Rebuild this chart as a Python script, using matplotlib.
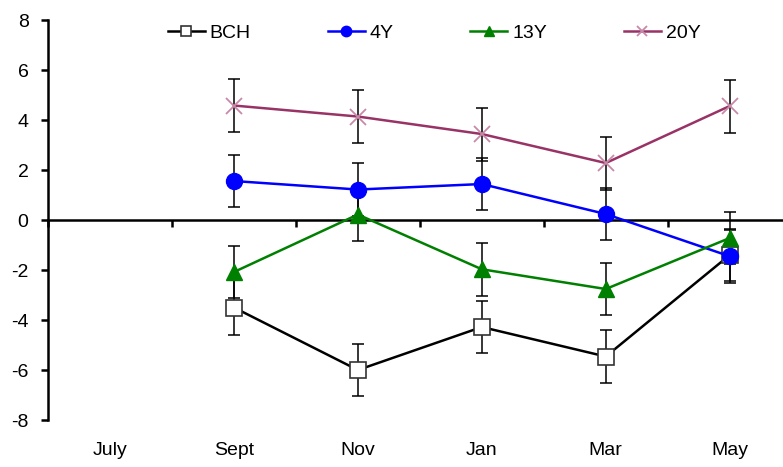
import numpy as np
import matplotlib
matplotlib.use("Agg")
import matplotlib.pyplot as plt

plt.rcParams['font.family'] = ['Liberation Sans', 'DejaVu Sans']
plt.rcParams['axes.unicode_minus'] = False

months = ['July', 'Sept', 'Nov', 'Jan', 'Mar', 'May']
months_data = ['Sept', 'Nov', 'Jan', 'Mar', 'May']

bch = [-3.5, -6.0, -4.28, -5.46, -1.4]
bch_err = [1.1, 1.05, 1.05, 1.05, 1.05]
y4 = [1.56, 1.22, 1.44, 0.24, -1.45]
y4_err = [1.05, 1.05, 1.05, 1.05, 1.05]
y13 = [-2.08, 0.22, -1.97, -2.76, -0.72]
y13_err = [1.05, 1.05, 1.05, 1.05, 1.05]
y20 = [4.58, 4.14, 3.44, 2.28, 4.56]
y20_err = [1.06, 1.06, 1.06, 1.06, 1.06]


def plot_chart():
    fig = plt.figure(figsize=(7.83, 4.67), dpi=100)
    ax = fig.add_axes([0.0613, 0.1006, 0.9387, 0.8565])

    x = np.array([months.index(m) for m in months_data])
    err_kw = dict(ecolor='black', elinewidth=1.1, capsize=4, capthick=1.1)

    series = [
        ('BCH', bch, bch_err, dict(color='black', marker='s', markersize=11,
                                   markerfacecolor='white', markeredgecolor='#333333',
                                   markeredgewidth=1.2)),
        ('4Y', y4, y4_err, dict(color='#0000ff', marker='o', markersize=11.5)),
        ('13Y', y13, y13_err, dict(color='#008000', marker='^', markersize=11.5)),
        ('20Y', y20, y20_err, dict(color='#993366', marker='x', markersize=11,
                                   markeredgecolor='#c888a8', markeredgewidth=1.3)),
    ]
    handles = []
    for name, vals, errs, style in series:
        ax.errorbar(x, vals, yerr=errs, fmt='none', zorder=2, **err_kw)
        h, = ax.plot(x, vals, linewidth=1.8, label=name, zorder=3, **style)
        handles.append(h)

    ax.set_ylim(-8, 8)
    ax.set_yticks(np.arange(-8, 9, 2))
    ax.tick_params(axis='y', direction='out', length=5, width=1.8, labelsize=14, pad=9)

    # horizontal axis sits at zero, ticks between categories
    ax.spines['bottom'].set_position(('data', 0))
    ax.spines['bottom'].set_linewidth(1.8)
    ax.spines['left'].set_linewidth(1.8)
    ax.spines['top'].set_visible(False)
    ax.spines['right'].set_visible(False)
    ax.set_xticks(np.arange(-0.5, 6, 1.0))
    ax.set_xticklabels([])
    ax.tick_params(axis='x', direction='out', length=5, width=1.8)
    ax.set_xlim(-0.5, 5.43)

    sec = ax.secondary_xaxis(0)
    sec.set_xticks(range(len(months)))
    sec.set_xticklabels(months)
    sec.spines['bottom'].set_visible(False)
    sec.tick_params(axis='x', length=0, labelsize=14, pad=16)

    fig.legend(handles=handles, loc='center left',
               bbox_to_anchor=(168 / 783, 1 - 33 / 467), bbox_transform=fig.transFigure,
               ncol=4, frameon=False, fontsize=14, handlelength=1.9,
               handletextpad=0.25, columnspacing=3.95, markerscale=0.65,
               borderpad=0, borderaxespad=0)

    fig.savefig('out.png', dpi=100)
    plt.close(fig)


if __name__ == "__main__":
    plot_chart()
